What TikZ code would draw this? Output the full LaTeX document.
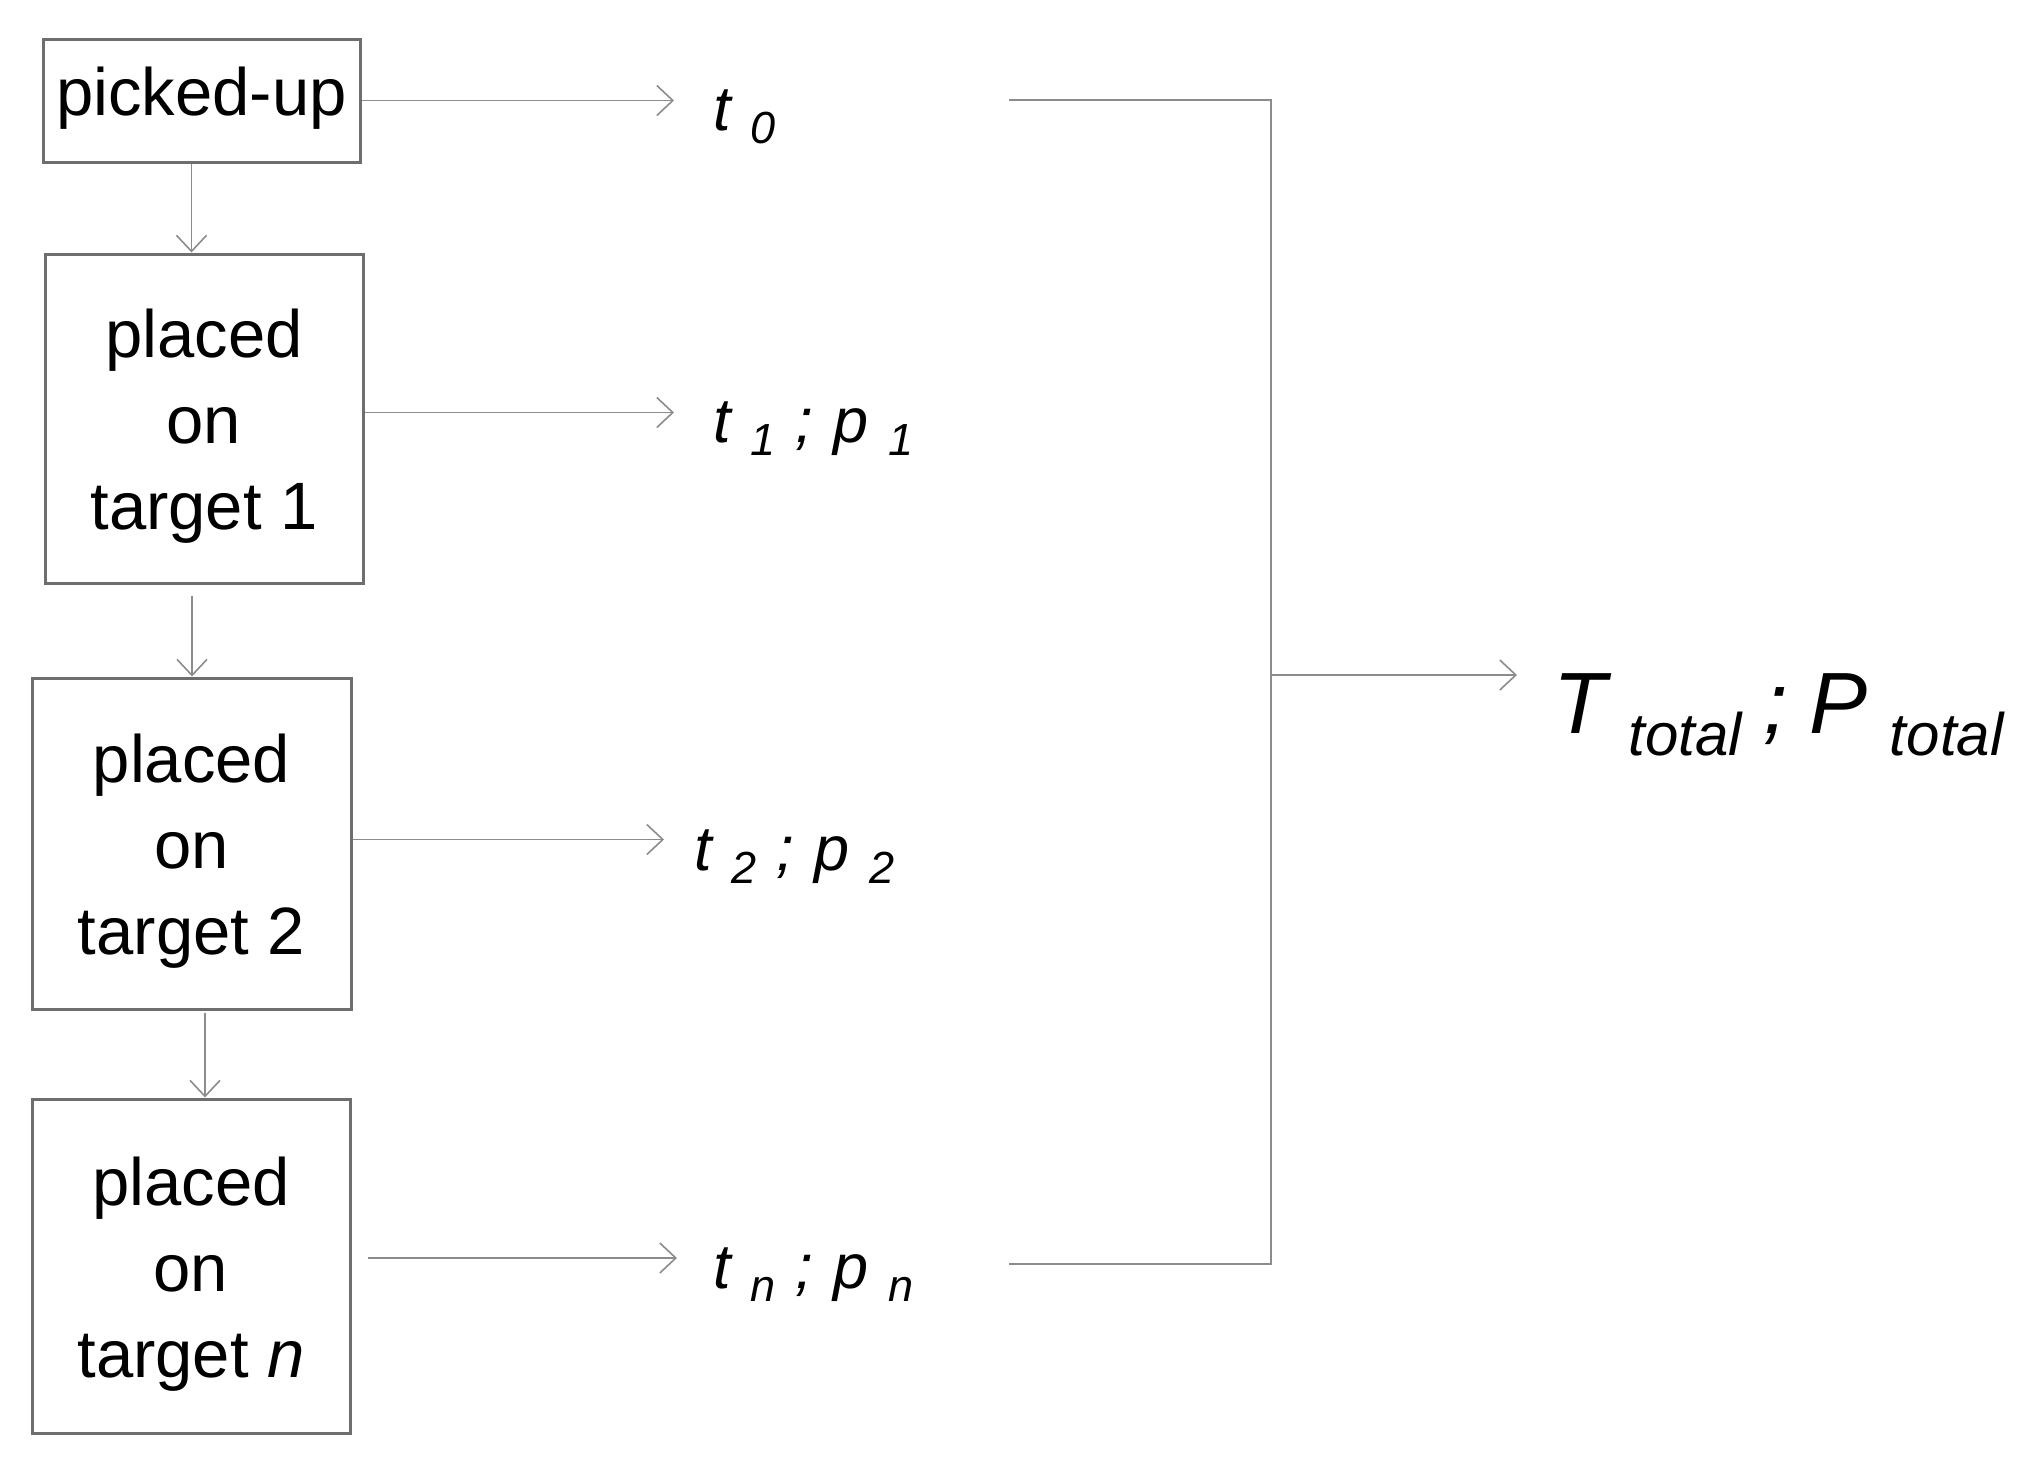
\documentclass[tikz,border=0pt]{standalone}
\usepackage{fontspec}
\setmainfont{Liberation Sans}
\usetikzlibrary{arrows.meta}
\definecolor{boxc}{HTML}{6E6E6E}
\definecolor{linec}{HTML}{8C8C8C}
\newcommand{\sbs}[1]{\raisebox{-13pt}{\fontsize{45}{45}\selectfont #1}}
\newcommand{\sbT}[1]{\raisebox{-22pt}{\fontsize{60}{60}\selectfont #1}}
\newcommand{\gp}{\hspace{20pt}}
\newcommand{\gT}{\hspace{22pt}}
\newcommand{\threeln}[3]{\raisebox{-8pt}[\height][\depth]{\begin{tabular}{@{}c@{}}#1\\#2\\#3\end{tabular}}}
\begin{document}
\begin{tikzpicture}[x=1pt,y=-1pt,
  box/.style={draw=boxc, line width=3pt, align=center, inner sep=0pt,
    font=\fontsize{67}{86}\selectfont},
  arr/.style={draw=linec, line width=1.6pt,
    -{Straight Barb[length=16pt,width=30pt,line width=1.6pt]}},
  plain/.style={draw=linec, line width=1.6pt},
  lbl/.style={anchor=base west, inner sep=0pt, font=\fontsize{63}{63}\selectfont\itshape}]
\useasboundingbox[fill=white] (0,0) rectangle (2033,1470);
% boxes
\node[box, minimum width=317pt, minimum height=123pt] (pu) at (201.5,100.5) {\raisebox{2pt}[\height][\depth]{picked-up}};
\node[box, minimum width=318pt, minimum height=329pt] (b1) at (204,418.5) {\threeln{placed}{on}{target 1}};
\node[box, minimum width=319pt, minimum height=331pt] (b2) at (191.5,843.5) {\threeln{placed}{on}{target 2}};
\node[box, minimum width=318pt, minimum height=334pt] (bn) at (191,1266) {\threeln{placed}{on}{target \textit{n}}};
% labels
\node[lbl] (t0) at (713,130) {t\gp\sbs{0}};
\node[lbl] (t1) at (713,442) {t\gp\sbs{1}\gp;\gp p\gp\sbs{1}};
\node[lbl] (t2) at (694,870) {t\gp\sbs{2}\gp;\gp p\gp\sbs{2}};
\node[lbl] (tn) at (713,1288) {t\gp\sbs{n}\gp;\gp p\gp\sbs{n}};
\node[anchor=base west, inner sep=0pt, font=\fontsize{87}{87}\selectfont\itshape] (tt) at (1553,733)
  {T\gT\sbT{total}\gT;\gT P\gT\sbT{total}};
% horizontal arrows
\draw[arr] (pu.east) -- ([xshift=-39pt]pu.east -| t0.west);
\draw[arr] ([yshift=6pt]b1.east) -- ([xshift=-39pt,yshift=6pt]b1.east -| t1.west);
\draw[arr] ([yshift=4pt]b2.east) -- ([xshift=-30pt,yshift=4pt]b2.east -| t2.west);
\draw[arr] ([xshift=16pt,yshift=8pt]bn.east) -- ([xshift=-36pt,yshift=8pt]bn.east -| tn.west);
% vertical arrows
\draw[arr] ([xshift=-10pt]pu.south) -- ([xshift=-10pt]pu.south |- b1.north);
\draw[arr] ([xshift=-12pt,yshift=-11pt]b1.south) -- ([xshift=-12pt]b1.south |- b2.north);
\draw[arr] ([xshift=13.5pt,yshift=-2pt]b2.south) -- ([xshift=13.5pt]b2.south |- bn.north);
% bracket
\coordinate (c0) at (1009,100);
\coordinate (cn) at (1009,1264);
\coordinate (cm) at (1271,675);
\draw[plain] (c0) -- (c0 -| cm) -- (cn -| cm) -- (cn);
\draw[arr] (cm) -- ([xshift=-36pt]cm -| tt.west);
\end{tikzpicture}
\end{document}
